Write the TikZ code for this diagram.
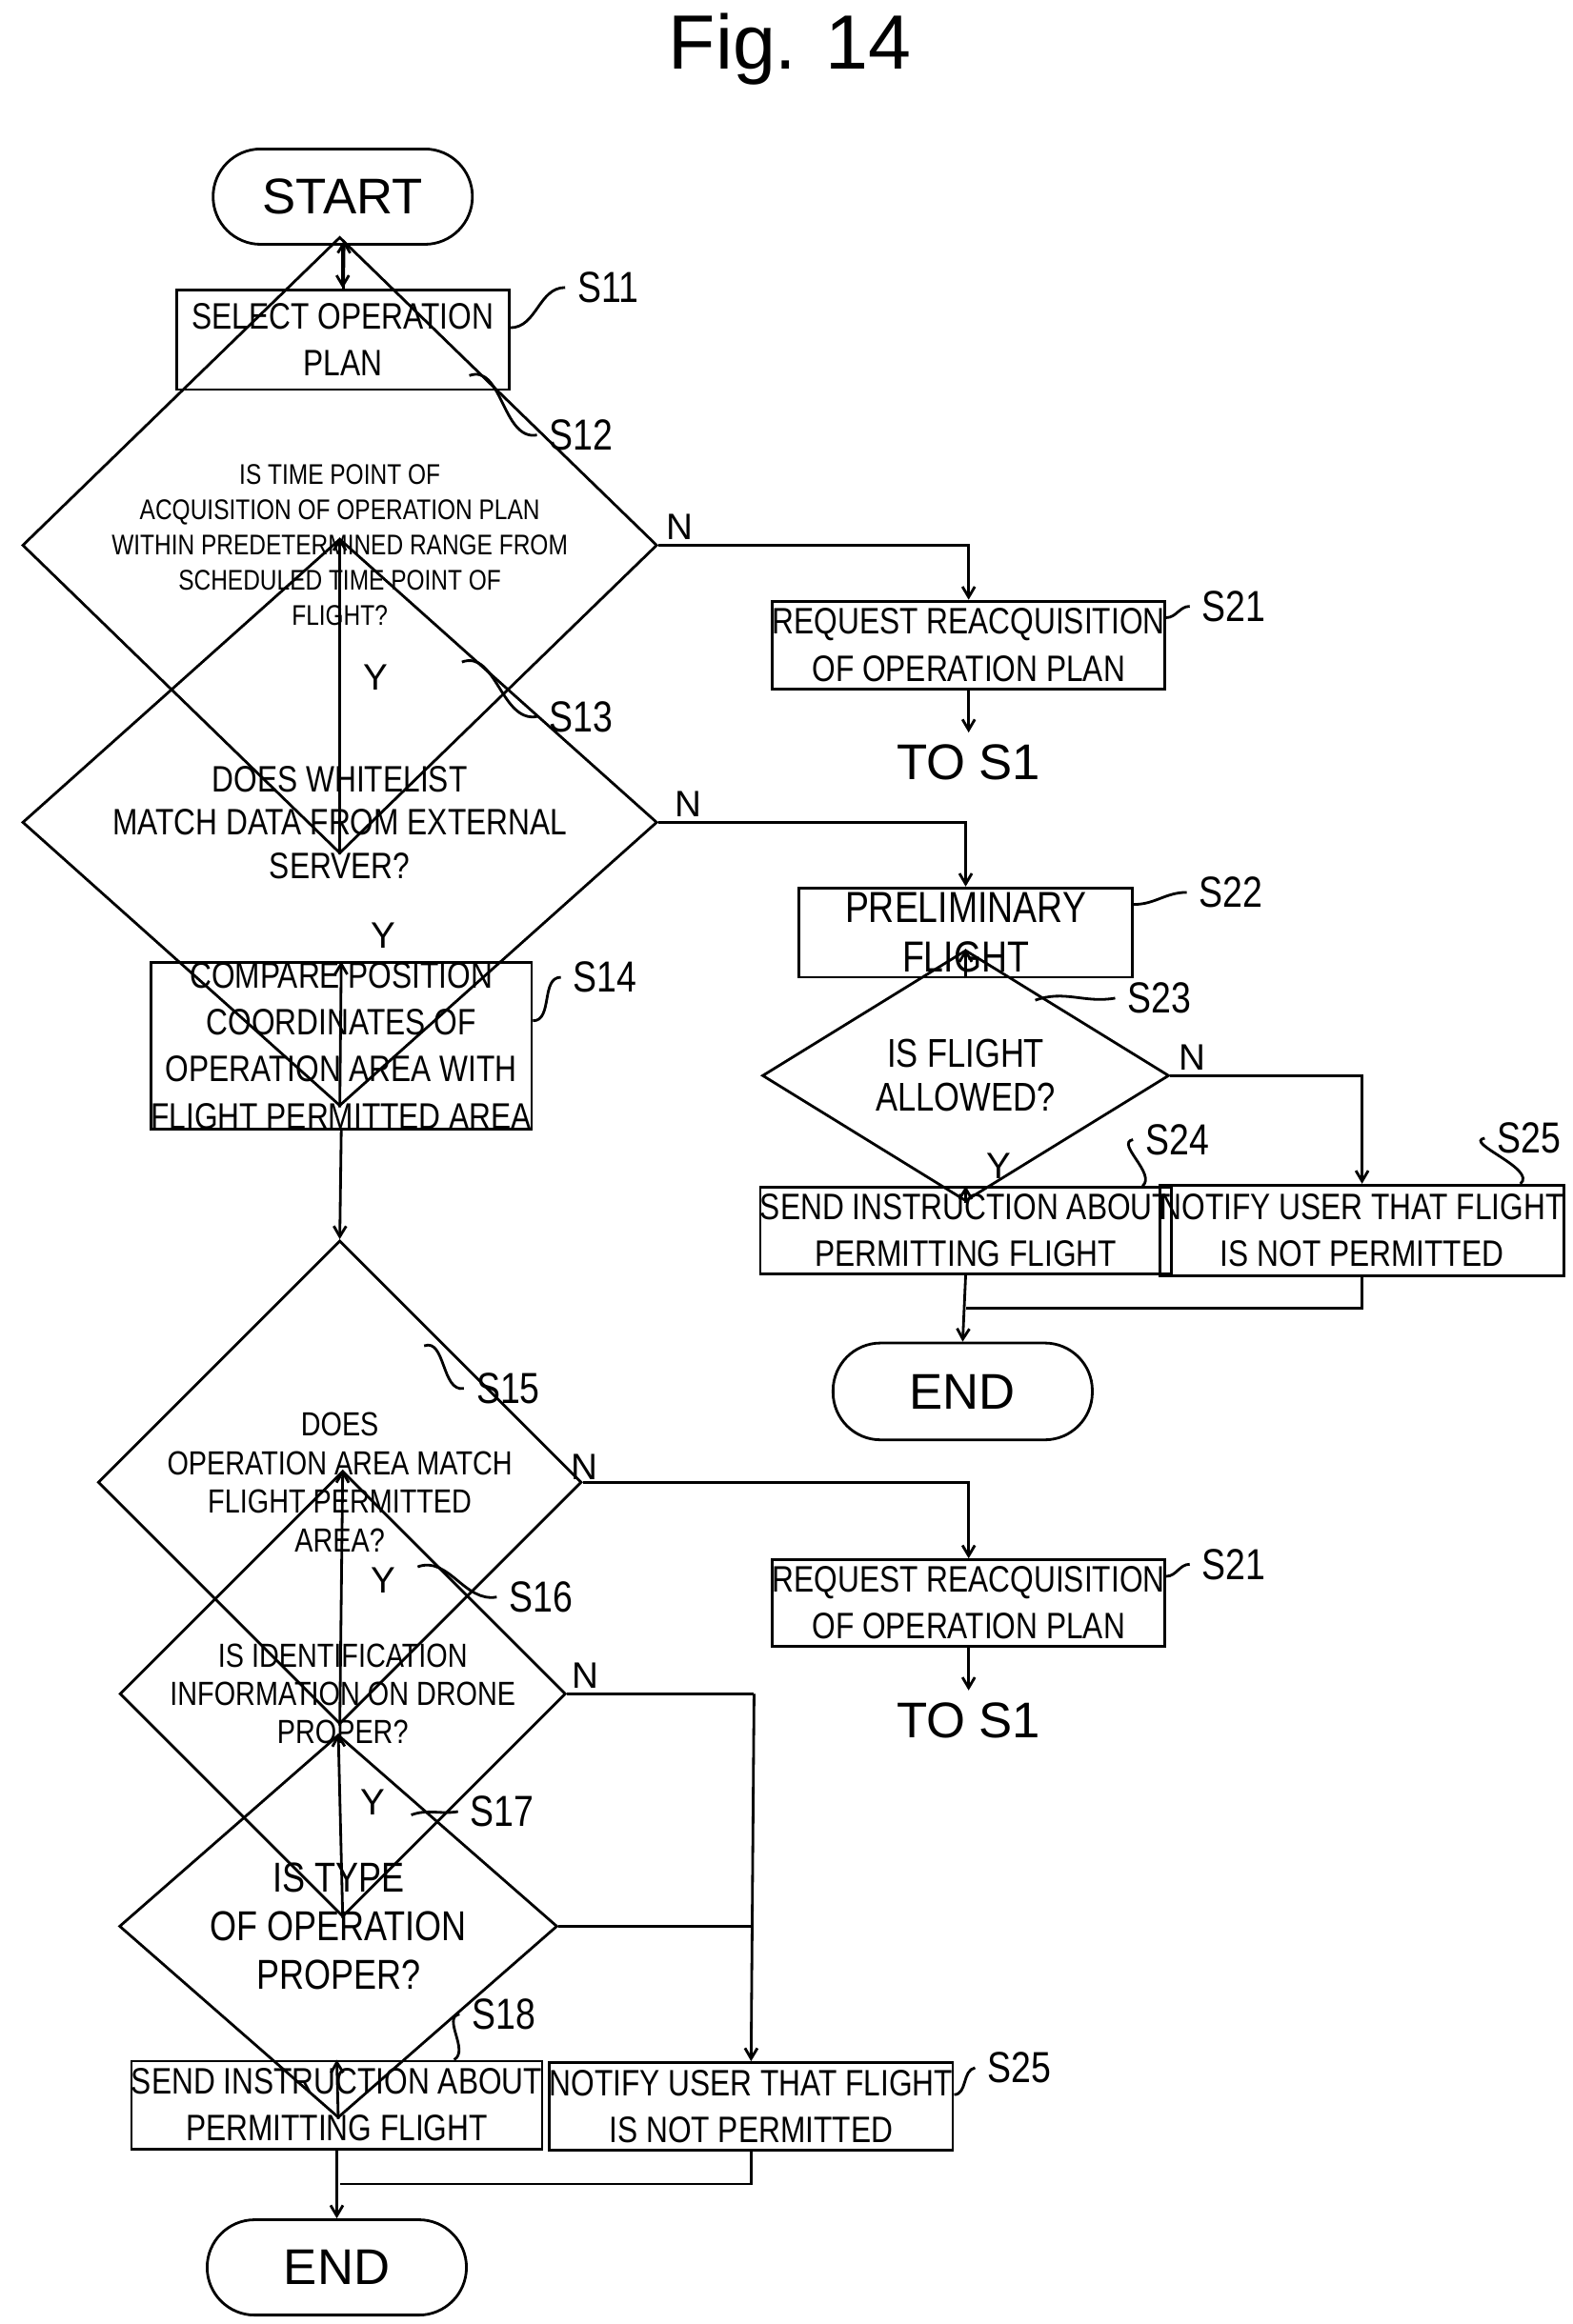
\documentclass[tikz,border=0pt]{standalone}
\usepackage{fontspec}
\setmainfont{Liberation Sans}
\newfontfamily\narrow{Liberation Sans}[FakeStretch=0.82]
\usetikzlibrary{arrows.meta,shapes.geometric,positioning}
\newlength\figpx
\setlength\figpx{0.01565cm}
\begin{document}
\begin{tikzpicture}[x=0.01565cm,y=-0.01565cm,
            >={Straight Barb[length=0.11cm,width=0.13cm]}, line width=0.8pt,
            box/.style={draw, rectangle, minimum width=223\figpx, minimum height=59\figpx, align=center, inner sep=0pt, font=\narrow\fontsize{11}{14}\selectfont},
            dec/.style={draw, diamond, inner sep=0pt, align=center, font=\narrow\fontsize{11}{13}\selectfont},
            term/.style={draw, rectangle, rounded corners=0.5cm, minimum width=174\figpx, minimum height=64\figpx, font=\fontsize{15}{18}\selectfont},
            tag/.style={font=\narrow\fontsize{13}{15}\selectfont},
            yn/.style={font=\fontsize{11}{13}\selectfont},
            goto/.style={font=\fontsize{15}{18}\selectfont}
            ]
            \useasboundingbox (0,0) rectangle (1055,1560);
            \node[font=\fontsize{23}{26}\selectfont] (title) at (530,33) {Fig. 14};

            % Nodes with manual coordinates
            \node[term] (start) at (230,132) {START};
            \node[box, minimum height=67\figpx] (s11) at (230,228) {SELECT OPERATION\\PLAN};
            \node[dec, minimum width=426\figpx, minimum height=139\figpx, font=\narrow\fontsize{8.5}{10.5}\selectfont] (d12) at (228,366) {IS TIME POINT OF\\ACQUISITION OF OPERATION PLAN\\WITHIN PREDETERMINED RANGE FROM\\SCHEDULED TIME POINT OF\\FLIGHT?};
            \node[box] (s21) at (650,433) {REQUEST REACQUISITION\\OF OPERATION PLAN};
            \node[goto] (to1) at (650,512) {TO S1};
            \node[dec, minimum width=426\figpx, minimum height=124\figpx] (d13) at (228,552) {DOES WHITELIST\\MATCH DATA FROM EXTERNAL\\SERVER?};
            \node[box, minimum width=224\figpx, minimum height=60\figpx, font=\narrow\fontsize{13}{15}\selectfont] (s22) at (648,626) {PRELIMINARY\\FLIGHT};
            \node[dec, minimum width=273\figpx, minimum height=76\figpx, font=\narrow\fontsize{12}{13}\selectfont] (d23) at (648,722) {IS FLIGHT\\ALLOWED?};
            \node[box, minimum height=58\figpx] (s24) at (648,826) {SEND INSTRUCTION ABOUT\\PERMITTING FLIGHT};
            \node[box, minimum width=225\figpx, minimum height=61\figpx] (s25) at (914,826) {NOTIFY USER THAT FLIGHT\\IS NOT PERMITTED};
            \node[term, minimum height=65\figpx] (end1) at (646,934) {END};
            \node[box, minimum height=109\figpx] (s14) at (229,702) {COMPARE POSITION\\COORDINATES OF\\OPERATION AREA WITH\\FLIGHT PERMITTED AREA};
            \node[dec, minimum width=272\figpx, minimum height=109\figpx, font=\narrow\fontsize{10}{11.5}\selectfont] (d15) at (228,995) {DOES\\OPERATION AREA MATCH\\FLIGHT PERMITTED\\AREA?};
            \node[box, minimum height=58\figpx] (s21b) at (650,1076) {REQUEST REACQUISITION\\OF OPERATION PLAN};
            \node[goto] (to2) at (650,1155) {TO S1};
            \node[dec, minimum width=292\figpx, minimum height=117\figpx, font=\narrow\fontsize{10}{11.5}\selectfont] (d16) at (230,1137) {IS IDENTIFICATION\\INFORMATION ON DRONE\\PROPER?};
            \node[dec, minimum width=294\figpx, minimum height=130\figpx, font=\narrow\fontsize{12.5}{14.5}\selectfont] (d17) at (227,1293) {IS TYPE\\OF OPERATION\\PROPER?};
            \node[box, minimum width=224\figpx] (s18) at (226,1413) {SEND INSTRUCTION ABOUT\\PERMITTING FLIGHT};
            \node[box, minimum width=224\figpx] (s25b) at (504,1414) {NOTIFY USER THAT FLIGHT\\IS NOT PERMITTED};
            \node[term] (end2) at (226,1522) {END};
            \coordinate (j1) at (648,878);
            \coordinate (j2) at (228,1466);
            \coordinate (k16) at (506,1137);
            \coordinate (k17) at (506,1293);

            % Step labels
            \node[tag] (l11) at (408,193) {S11};
            \node[tag] (l12) at (390,292) {S12};
            \node[tag] (l21) at (828,407) {S21};
            \node[tag] (l13) at (390,481) {S13};
            \node[tag] (l22) at (826,599) {S22};
            \node[tag] (l14) at (406,656) {S14};
            \node[tag] (l23) at (778,670) {S23};
            \node[tag] (l24) at (790,765) {S24};
            \node[tag] (l25) at (1026,764) {S25};
            \node[tag] (l15) at (341,932) {S15};
            \node[tag] (l21b) at (828,1050) {S21};
            \node[tag] (l16) at (363,1072) {S16};
            \node[tag] (l17) at (337,1216) {S17};
            \node[tag] (l18) at (338,1352) {S18};
            \node[tag] (l25b) at (684,1388) {S25};

            % Y / N marks
            \node[yn] (n12) at (456,354) {N};
            \node[yn] (y12) at (252,455) {Y};
            \node[yn] (n13) at (462,540) {N};
            \node[yn] (y13) at (257,628) {Y};
            \node[yn] (n23) at (800,710) {N};
            \node[yn] (y23) at (670,783) {Y};
            \node[yn] (n15) at (392,985) {N};
            \node[yn] (y15) at (257,1061) {Y};
            \node[yn] (n16) at (393,1125) {N};
            \node[yn] (y16) at (250,1210) {Y};

            % Arrows
            \draw[->] (start) -- (s11);
            \draw[->] (s11) -- (d12);
            \draw[->] (d12.east) -| (s21.north);
            \draw[->] (s21) -- (to1);
            \draw[->] (d12.south) -- (d13.north);
            \draw[->] (d13.east) -| (s22.north);
            \draw[->] (s22) -- (d23);
            \draw[->] (d23.east) -| (s25.north);
            \draw[->] (d23.south) -- (s24.north);
            \draw[->] (s24.south) -- (end1.north);
            \draw (s25.south) |- (j1);
            \draw[->] (d13.south) -- (s14.north);
            \draw[->] (s14.south) -- (d15.north);
            \draw[->] (d15.east) -| (s21b.north);
            \draw[->] (s21b) -- (to2);
            \draw[->] (d15.south) -- (d16.north);
            \draw (d16.east) -- (k16);
            \draw[->] (k16) -- (s25b.north);
            \draw (d17.east) -- (k17);
            \draw[->] (d16.south) -- (d17.north);
            \draw[->] (d17.south) -- (s18.north);
            \draw[->] (s18.south) -- (end2.north);
            \draw (s25b.south) |- (j2);

            % Leaders
            \draw (s11.east) ++(0,-8) to[out=0,in=180] (l11.west);
            \draw (d12.north east) ++(-20,-10) to[out=20,in=190] (l12.west);
            \draw (s21.north east) ++(0,12) to[out=0,in=180] (l21.west);
            \draw (d13.north east) ++(-25,-12) to[out=20,in=190] (l13.west);
            \draw (s22.north east) ++(0,12) to[out=0,in=180] (l22.west);
            \draw (s14.north east) ++(0,40) to[out=0,in=180] (l14.west);
            \draw (d23.north east) ++(-22,-8) to[out=20,in=190] (l23.west);
            \draw (s24.north east) ++(-20,0) to[out=40,in=190] (l24.west);
            \draw (s25.north east) ++(-30,0) to[out=40,in=190] (l25.west);
            \draw (d15.north east) ++(-25,-10) to[out=20,in=190] (l15.west);
            \draw (s21b.north east) ++(0,12) to[out=0,in=180] (l21b.west);
            \draw (d16.north east) ++(-25,-10) to[out=20,in=190] (l16.west);
            \draw (d17.north east) ++(-25,-10) to[out=20,in=190] (l17.west);
            \draw (s18.north east) ++(-60,0) to[out=30,in=190] (l18.west);
            \draw (s25b.east) ++(0,-8) to[out=0,in=190] (l25b.west);
        \end{tikzpicture}
\end{document}
